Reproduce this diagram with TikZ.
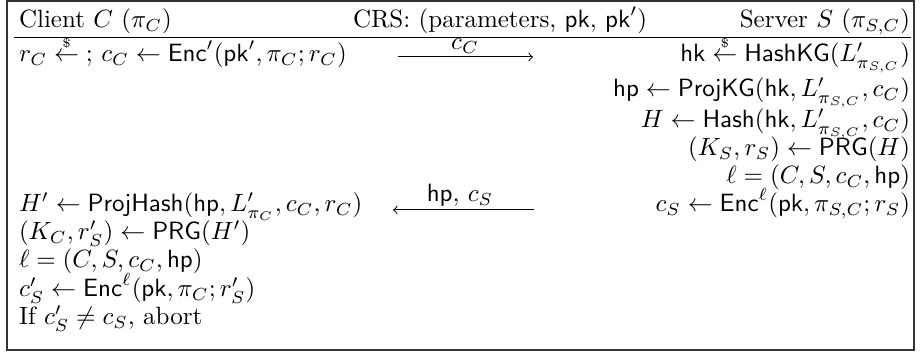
\documentclass[tikz,border=0pt]{standalone}
\usepackage{amsmath}
\newcommand{\sampgets}{\overset{\scriptscriptstyle\$}{\leftarrow}}
\begin{document}
\begin{tikzpicture}[x=0.4pt,y=-0.4pt,
  lt/.style={anchor=base west,inner sep=0pt,outer sep=0pt},
  rt/.style={anchor=base east,inner sep=0pt,outer sep=0pt},
  ct/.style={anchor=base,inner sep=0pt,outer sep=0pt},
  msg/.style={line width=0.4pt,-to},
  rulestyle/.style={line width=0.4pt},
  framestyle/.style={draw,line width=0.6pt,draw=black!80}]
\useasboundingbox (0,0) rectangle (920,352);
\draw[framestyle] (7,1) rectangle (914,350);
% header
\node[lt] (hc) at (19,28) {Client $C$ ($\pi_C$)};
\node[lt] (hcrs) at (353,28) {CRS: (parameters, $\mathsf{pk}$, $\mathsf{pk}'$)};
\node[rt] (hs) at (910,28) {Server $S$ ($\pi_{S,C}$)};
\coordinate (r1) at (14,38);
\coordinate (r2) at (911,38);
\draw[rulestyle] (r1) -- (r2);
% client
\node[lt] (c1) at (19,62) {$r_C \sampgets\;$; $c_C \leftarrow \mathsf{Enc}'(\mathsf{pk}', \pi_C; r_C)$};
\node[lt] (c2) at (19,212) {$H' \leftarrow \mathsf{ProjHash}(\mathsf{hp}, L'_{\pi_C}, c_C, r_C)$};
\node[lt] (c3) at (19,240) {$(K_C, r'_S) \leftarrow \mathsf{PRG}(H')$};
\node[lt] (c4) at (19,268) {$\ell = (C, S, c_C, \mathsf{hp})$};
\node[lt] (c5) at (19,297) {$c'_S \leftarrow \mathsf{Enc}^\ell(\mathsf{pk}, \pi_C; r'_S)$};
\node[lt] (c6) at (19,325) {If $c'_S \neq c_S$, abort};
% server
\node[rt] (s1) at (910,62) {$\mathsf{hk} \sampgets \mathsf{HashKG}(L'_{\pi_{S,C}})$};
\node[rt] (s2) at (910,97) {$\mathsf{hp} \leftarrow \mathsf{ProjKG}(\mathsf{hk}, L'_{\pi_{S,C}}, c_C)$};
\node[rt] (s3) at (910,128) {$H \leftarrow \mathsf{Hash}(\mathsf{hk}, L'_{\pi_{S,C}}, c_C)$};
\node[rt] (s4) at (910,156) {$(K_S, r_S) \leftarrow \mathsf{PRG}(H)$};
\node[rt] (s5) at (910,184) {$\ell = (C, S, c_C, \mathsf{hp})$};
\node[rt] (s6) at (910,212) {$c_S \leftarrow \mathsf{Enc}^\ell(\mathsf{pk}, \pi_{S,C}; r_S)$};
% messages
\coordinate (m1a) at (398,57);
\coordinate (m1b) at (533,57);
\draw[msg] (m1a) -- (m1b);
\node[ct] (m1l) at (465,50) {$c_C$};
\coordinate (m2a) at (534,210);
\coordinate (m2b) at (393,210);
\draw[msg] (m2a) -- (m2b);
\node[ct] (m2l) at (460,202) {$\mathsf{hp},\, c_S$};
\end{tikzpicture}
\end{document}
